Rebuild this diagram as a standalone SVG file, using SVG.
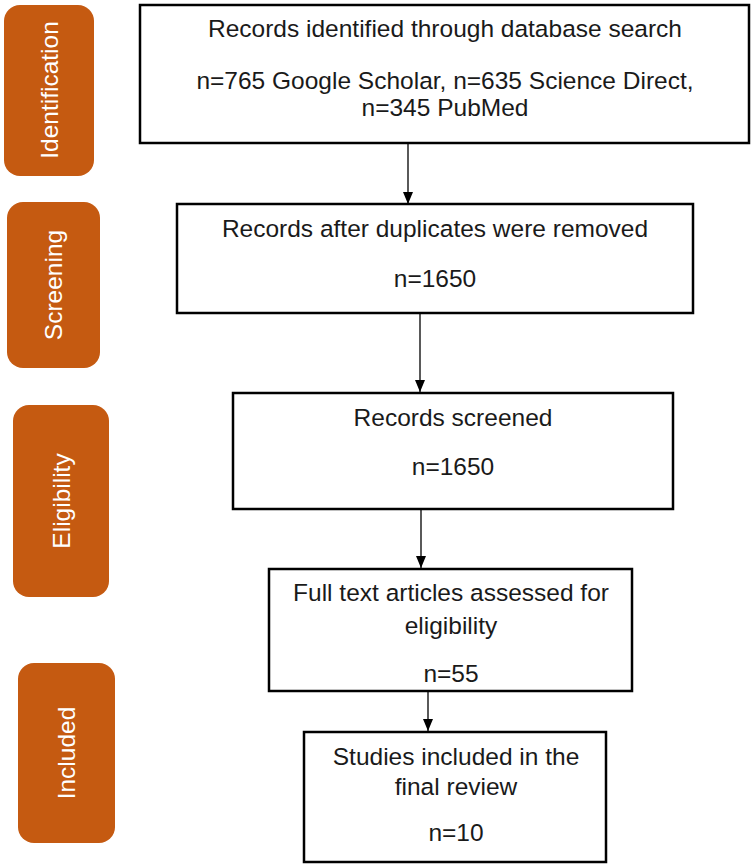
<svg xmlns="http://www.w3.org/2000/svg" width="752" height="865" viewBox="0 0 752 865">
<style>
.box{fill:#fff;stroke:#000;stroke-width:2.5}
.stage{fill:#c55a11}
.t{font-family:"Liberation Sans",Arial,sans-serif;font-size:24.5px;fill:#1a1a1a;text-anchor:middle}
.s{font-family:"Liberation Sans",Arial,sans-serif;font-size:24.5px;fill:#fff;text-anchor:middle;dominant-baseline:central}
.c{stroke:#000;stroke-width:1.3;fill:none}
</style>
<defs>
<marker id="ah" markerWidth="12" markerHeight="10" refX="12" refY="5" orient="auto" markerUnits="userSpaceOnUse" viewBox="0 0 12 10">
<path d="M0,0 L12,5 L0,10 Z" fill="#000"/>
</marker>
</defs>
<rect width="752" height="865" fill="#fff"/>
<g id="stage-identification"><rect class="stage" x="4" y="5" width="90" height="171" rx="16"/><text class="s" transform="translate(49,90) rotate(-90)">Identification</text></g>
<g id="stage-screening"><rect class="stage" x="7" y="202" width="93" height="166" rx="16"/><text class="s" transform="translate(53,285) rotate(-90)">Screening</text></g>
<g id="stage-eligibility"><rect class="stage" x="13" y="405" width="96" height="192" rx="16"/><text class="s" transform="translate(61,501) rotate(-90)">Eligibility</text></g>
<g id="stage-included"><rect class="stage" x="18" y="663" width="97" height="180" rx="16"/><text class="s" transform="translate(66,753) rotate(-90)">Included</text></g>
<g id="connectors">
<line class="c" x1="408" y1="143" x2="408" y2="204" marker-end="url(#ah)"/>
<line class="c" x1="420" y1="313" x2="420" y2="392" marker-end="url(#ah)"/>
<line class="c" x1="421" y1="509" x2="421" y2="568" marker-end="url(#ah)"/>
<line class="c" x1="428" y1="691" x2="428" y2="731" marker-end="url(#ah)"/>
</g>
<g id="n1"><rect class="box" x="140" y="5" width="609" height="138"/>
<text class="t" x="445" y="37">Records identified through database search</text>
<text class="t" x="445" y="89">n=765 Google Scholar, n=635 Science Direct,</text>
<text class="t" x="445" y="116">n=345 PubMed</text></g>
<g id="n2"><rect class="box" x="177" y="204" width="516" height="109"/>
<text class="t" x="435" y="237">Records after duplicates were removed</text>
<text class="t" x="435" y="287">n=1650</text></g>
<g id="n3"><rect class="box" x="233" y="393" width="440" height="116"/>
<text class="t" x="453" y="426">Records screened</text>
<text class="t" x="453" y="475">n=1650</text></g>
<g id="n4"><rect class="box" x="269" y="569" width="363" height="122"/>
<text class="t" x="451" y="601">Full text articles assessed for</text>
<text class="t" x="451" y="634">eligibility</text>
<text class="t" x="451" y="682">n=55</text></g>
<g id="n5"><rect class="box" x="304" y="732" width="302" height="130"/>
<text class="t" x="456" y="765">Studies included in the</text>
<text class="t" x="456" y="795">final review</text>
<text class="t" x="456" y="841">n=10</text></g>
</svg>
